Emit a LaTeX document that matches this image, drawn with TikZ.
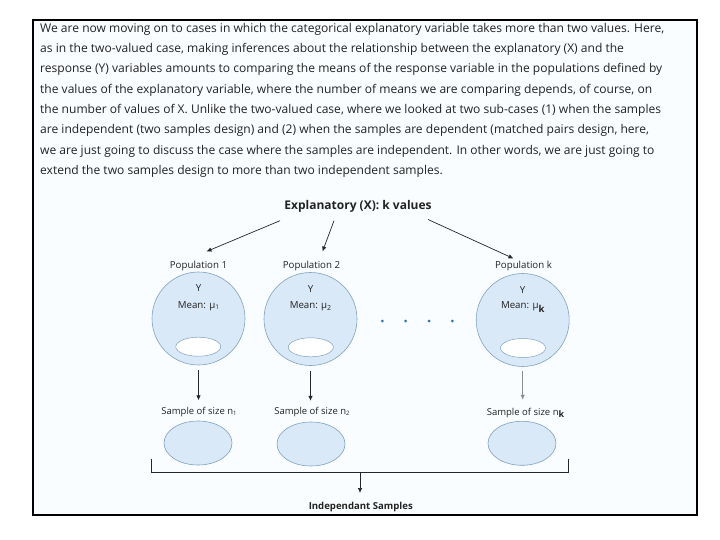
\documentclass[tikz,border=0pt]{standalone}
\usepackage{fontspec}
\setmainfont{Open Sans}
\usetikzlibrary{arrows.meta,shapes.geometric}
\definecolor{popfill}{HTML}{DAE9F7}
\definecolor{popline}{HTML}{7FA1C0}
\definecolor{dotblue}{HTML}{2F6EA8}
\definecolor{txt}{HTML}{222222}
\tikzset{
  para/.style={anchor=mid west, inner sep=0pt, font=\fontsize{12.05}{14}\selectfont, text=txt},
  lbl/.style={inner sep=0pt, font=\fontsize{9.7}{11}\selectfont, text=txt},
  slbl/.style={inner sep=0pt, font=\fontsize{9.5}{11}\selectfont, text=txt},
  pop/.style={circle, draw=popline, fill=popfill, line width=0.6pt, minimum size=93pt, inner sep=0pt},
  hole/.style={ellipse, draw=popline, fill=white, line width=0.5pt, minimum width=45pt, minimum height=19pt, inner sep=0pt},
  samp/.style={ellipse, draw=popline, fill=popfill, line width=0.6pt, minimum width=68pt, minimum height=44pt, inner sep=0pt},
  arr/.style={-{Latex[length=5pt,width=4.5pt]}, line width=0.7pt, draw=black!85},
  dotn/.style={circle, fill=dotblue, minimum size=3pt, inner sep=0pt},
}
\begin{document}
\begin{tikzpicture}[x=1pt,y=-1pt]
\useasboundingbox (0,0) rectangle (720,540);
\fill[white] (0,0) rectangle (720,540);
\draw[line width=1.2pt, fill={rgb,255:red,250;green,253;blue,255}] (33,20) rectangle (697,515);
% paragraph
\node[para] (l1) at (40,29.6) {We are now moving on to cases in which the categorical explanatory variable takes more than two values. Here,};
\node[para] (l2) at (40,49.9) {as in the two-valued case, making inferences about the relationship between the explanatory (X) and the};
\node[para] (l3) at (40,70.2) {response (Y) variables amounts to comparing the means of the response variable in the populations defined by};
\node[para] (l4) at (40,90.5) {the values of the explanatory variable, where the number of means we are comparing depends, of course, on};
\node[para] (l5) at (40,110.8) {the number of values of X. Unlike the two-valued case, where we looked at two sub-cases (1) when the samples};
\node[para] (l6) at (40,131.1) {are independent (two samples design) and (2) when the samples are dependent (matched pairs design, here,};
\node[para] (l7) at (40,151.4) {we are just going to discuss the case where the samples are independent. In other words, we are just going to};
\node[para] (l8) at (40,171.7) {extend the two samples design to more than two independent samples.};
% title
\node[inner sep=0pt, font=\fontsize{12}{14}\selectfont\bfseries, text=txt] (ex) at (358,206.5) {Explanatory (X): k values};
\coordinate (e1) at (280,220.7);
\coordinate (e2) at (334,220.7);
\coordinate (e3) at (428,219.5);
% population labels
\node[lbl] (p1) at (198.5,266) {Population 1};
\node[lbl] (p2) at (311.5,266) {Population 2};
\node[lbl] (pk) at (523.5,266) {Population k};
\draw[arr] (e1) -- (206.5,251.5);
\draw[arr] (e2) -- (322.5,251.5);
\draw[arr] (e3) -- (513.5,258.5);
% circles
\node[pop] (c1) at (198.5,318.5) {};
\node[pop] (c2) at (310.5,319) {};
\node[pop] (ck) at (522.7,320) {};
\node[lbl] (y1) at (198.5,288.5) {Y};
\node[lbl] (m1) at (198.5,306) {Mean: μ\raisebox{-0.25ex}{\fontsize{6.5}{7}\selectfont 1}};
\node[lbl] (y2) at (310.5,289) {Y};
\node[lbl] (m2) at (310.5,306.5) {Mean: μ\raisebox{-0.25ex}{\fontsize{7}{7}\selectfont 2}};
\node[lbl] (yk) at (522.7,290) {Y};
\node[lbl] (mk) at (522.7,307) {Mean: μ\raisebox{-0.6ex}{\fontsize{9.5}{10}\selectfont\bfseries k}};
\node[hole] (h1) at (198.3,346.7) {};
\node[hole] (h2) at (310.8,347.3) {};
\node[hole] (hk) at (523,348) {};
% dots
\node[dotn] (d1) at (382.3,321) {};
\node[dotn] (d2) at (405.7,321) {};
\node[dotn] (d3) at (429,321) {};
\node[dotn] (d4) at (452.3,321) {};
% sample labels
\node[slbl] (s1) at (199,411.7) {Sample of size n\raisebox{-0.25ex}{\fontsize{6}{7}\selectfont 1}};
\node[slbl] (s2) at (312,412) {Sample of size n\raisebox{-0.25ex}{\fontsize{6}{7}\selectfont 2}};
\node[slbl] (sk) at (525.5,412.7) {Sample of size n\raisebox{-0.5ex}{\fontsize{9}{10}\selectfont\bfseries k}};
\draw[arr] (c1.south) ++(0,5) -- ++(0,30);
\draw[arr] (c2.south) ++(0,5) -- ++(0,30);
\draw[arr, draw=black!45] (ck.south) ++(0,4.5) -- ++(0,28.5);
% samples
\node[samp] (e1s) at (198,443) {};
\node[samp] (e2s) at (311,444) {};
\node[samp] (eks) at (522,443.3) {};
% bracket
\coordinate (bl) at (151.7,459.3);
\coordinate (br) at (568.3,459.3);
\coordinate (bm) at (360,472.7);
\draw[line width=0.9pt, draw=black!85] (bl) -- (151.7,472.7) -- (568.3,472.7) -- (br);
\node[inner sep=0pt, font=\fontsize{9.6}{11}\selectfont\bfseries, text=txt] (ind) at (360.8,507.3) {Independant Samples};
\draw[arr] (bm) -- (360,493);
\end{tikzpicture}
\end{document}
